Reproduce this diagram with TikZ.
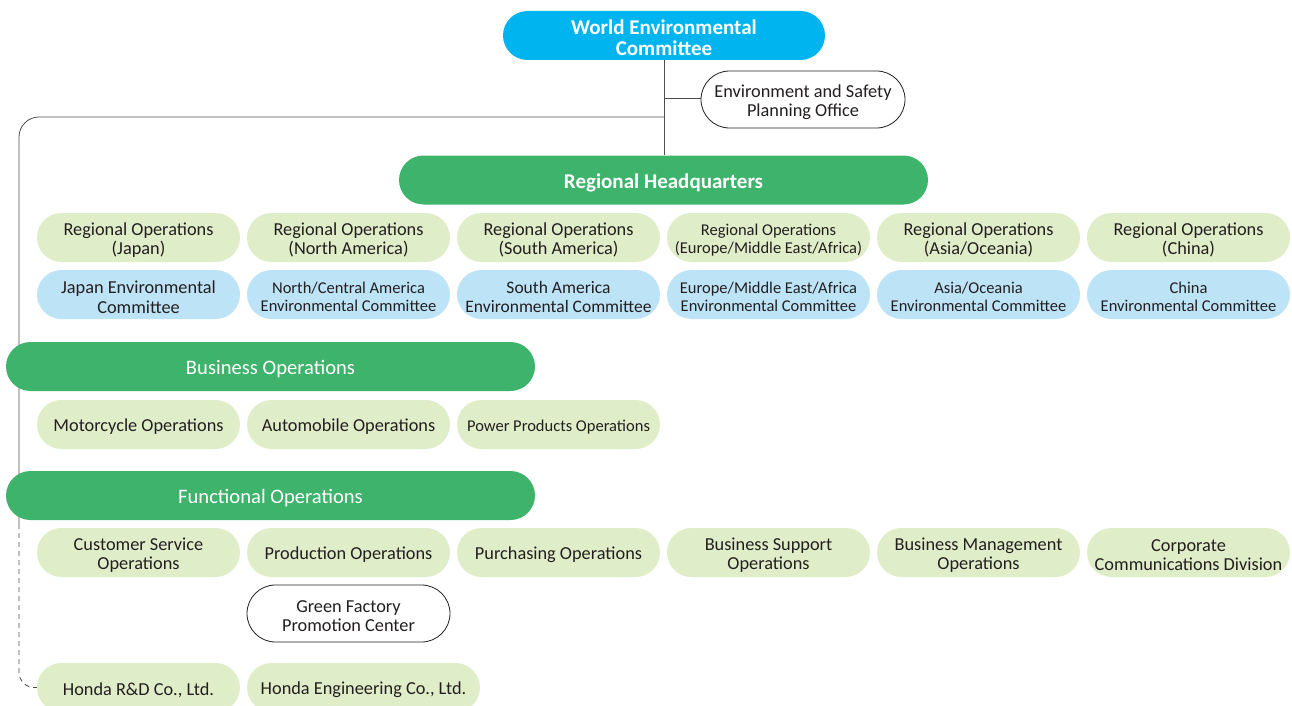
\documentclass[tikz,border=0pt]{standalone}
\usepackage{fontspec}
\setmainfont{Carlito}
\usetikzlibrary{shapes.misc}
\definecolor{wcyan}{HTML}{00B5EF}
\definecolor{hgreen}{HTML}{3DB36B}
\definecolor{lgreen}{HTML}{DFEDC8}
\definecolor{lblue}{HTML}{BDE3F7}
\definecolor{txt}{HTML}{231F20}
\definecolor{lin}{HTML}{4D4D4D}
\pgfdeclarelayer{bg}
\pgfsetlayers{bg,main}
\tikzset{
  pill/.style={rounded rectangle, minimum height=49pt, inner sep=0pt, align=center,
    text=txt, font=\fontsize{18.3}{19.5}\selectfont},
  lg/.style={pill, fill=lgreen, minimum width=203pt},
  lb/.style={pill, fill=lblue, minimum width=203pt},
  small/.style={font=\fontsize{16.5}{18.5}\selectfont},
  mid/.style={font=\fontsize{17.5}{19}\selectfont},
  head/.style={pill, fill=hgreen, text=white, minimum width=529pt, font=\fontsize{20.6}{21}\selectfont},
  headb/.style={head, font=\bfseries\fontsize{21}{21}\selectfont},
  outl/.style={pill, draw=txt, fill=white, line width=0.8pt, minimum width=204pt, minimum height=57pt},
  conn/.style={draw=lin, line width=0.8pt},
  lbl/.style={fill=none, draw=none, minimum width=0pt, minimum height=0pt, yshift=-2.5pt},
}
% style, name, position, text
\newcommand\pillnode[4]{%
  \node[#1] (#2) at (#3) {};
  \node[#1, lbl] at (#2.center) {#4};}
\begin{document}
\begin{tikzpicture}[x=1pt,y=-1pt]
\useasboundingbox (0,0) rectangle (1292,706);
\clip (0,0) rectangle (1292,706);
% top
\pillnode{headb, fill=wcyan, minimum width=322pt, font=\bfseries\fontsize{21}{21}\selectfont}{wec}{664,35.5}{World Environmental\\Committee}
\pillnode{outl}{esp}{803,99.5}{Environment and Safety\\Planning Office}
\pillnode{headb}{rhq}{663.5,180}{Regional Headquarters}
% regional row 1
\pillnode{lg}{r1}{138.5,237.5}{Regional Operations\\(Japan)}
\pillnode{lg}{r2}{348.5,237.5}{Regional Operations\\(North America)}
\pillnode{lg}{r3}{558.5,237.5}{Regional Operations\\(South America)}
\pillnode{lg, small}{r4}{768.5,237.5}{Regional Operations\\(Europe/Middle East/Africa)}
\pillnode{lg}{r5}{978.5,237.5}{Regional Operations\\(Asia/Oceania)}
\pillnode{lg}{r6}{1188.5,237.5}{Regional Operations\\(China)}
% regional row 2
\pillnode{lb}{e1}{138.5,294.5}{Japan Environmental\\Committee}
\pillnode{lb, small}{e2}{348.5,294.5}{North/Central America\\Environmental Committee}
\pillnode{lb, mid}{e3}{558.5,294.5}{South America\\Environmental Committee}
\pillnode{lb, small}{e4}{768.5,294.5}{Europe/Middle East/Africa\\Environmental Committee}
\pillnode{lb, small}{e5}{978.5,294.5}{Asia/Oceania\\Environmental Committee}
\pillnode{lb, small}{e6}{1188.5,294.5}{China\\Environmental Committee}
% business
\pillnode{head}{bo}{270.5,366.5}{Business Operations}
\pillnode{lg}{b1}{138.5,424.5}{Motorcycle Operations}
\pillnode{lg}{b2}{348.5,424.5}{Automobile Operations}
\pillnode{lg, small}{b3}{558.5,424.5}{Power Products Operations}
% functional
\pillnode{head}{fo}{270.5,495.5}{Functional Operations}
\pillnode{lg}{f1}{138.5,552.5}{Customer Service\\Operations}
\pillnode{lg}{f2}{348.5,552.5}{Production Operations}
\pillnode{lg}{f3}{558.5,552.5}{Purchasing Operations}
\pillnode{lg}{f4}{768.5,552.5}{Business Support\\Operations}
\pillnode{lg}{f5}{978.5,552.5}{Business Management\\Operations}
\pillnode{lg}{f6}{1188.5,552.5}{Corporate\\Communications Division}
\pillnode{outl, minimum width=203pt}{gf}{348.5,613.5}{Green Factory\\Promotion Center}
% group companies
\pillnode{lg}{h1}{138.5,687.5}{Honda R\&D Co., Ltd.}
\pillnode{lg, minimum width=233pt}{h2}{363.5,687.5}{Honda Engineering Co., Ltd.}
% connectors
\coordinate (j1) at (664,98);
\coordinate (j2) at (664,117);
\coordinate (c1) at (19,117);
\coordinate (d1) at (19,524);
\coordinate (c2) at (19,688);
\begin{pgfonlayer}{bg}
\draw[conn] (wec.south) -- (wec.south |- rhq.north);
\draw[conn] (j1) -- (j1 -| esp.west);
\draw[conn, rounded corners=20pt] (j2) -- (c1) -- (d1);
\draw[conn, dash pattern=on 5pt off 4pt, rounded corners=16pt] (d1) -- (c2) -- (h1.west);
\end{pgfonlayer}
\end{tikzpicture}
\end{document}
